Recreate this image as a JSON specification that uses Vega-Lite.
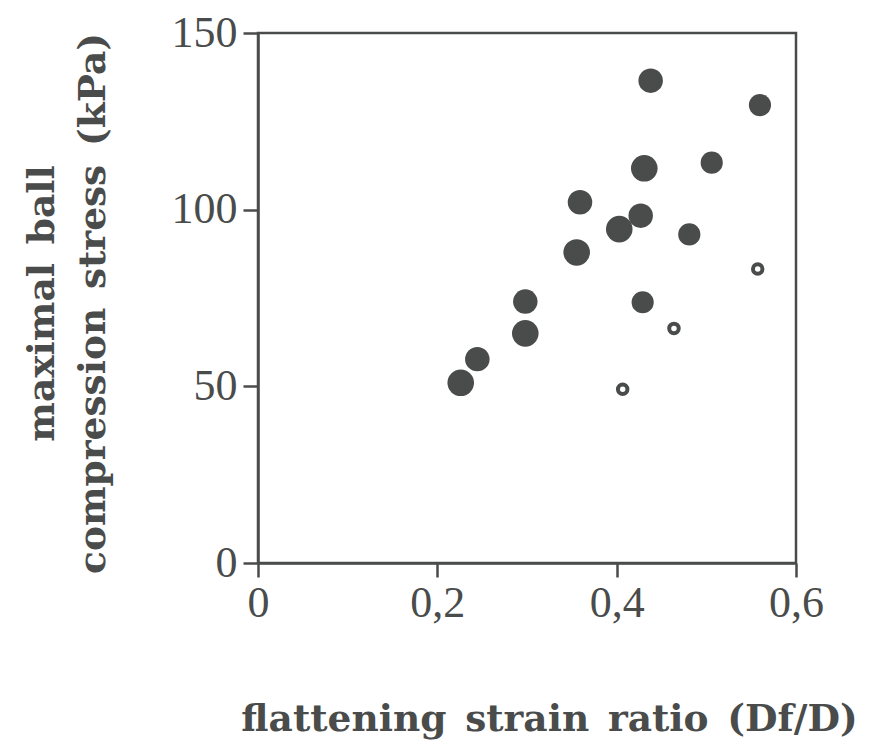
{
  "$schema": "https://vega.github.io/schema/vega-lite/v6.json",
  "width": 538,
  "height": 530,
  "autosize": {"type": "none"},
  "padding": {"left": 258, "top": 33, "right": 78, "bottom": 192},
  "background": "white",
  "config": {
    "view": {"stroke": "#4a4c4b", "strokeWidth": 2.5},
    "font": "Liberation Serif"
  },
  "data": {
    "values": [
      {"strain": 0.2261, "stress": 51.0, "group": "large"},
      {"strain": 0.2446, "stress": 57.7, "group": "medium"},
      {"strain": 0.2981, "stress": 74.0, "group": "medium"},
      {"strain": 0.2981, "stress": 65.0, "group": "large"},
      {"strain": 0.3591, "stress": 102.1, "group": "medium"},
      {"strain": 0.3554, "stress": 87.9, "group": "large"},
      {"strain": 0.4029, "stress": 94.5, "group": "large"},
      {"strain": 0.4268, "stress": 98.3, "group": "medium"},
      {"strain": 0.4308, "stress": 111.7, "group": "large"},
      {"strain": 0.4379, "stress": 136.5, "group": "medium"},
      {"strain": 0.5598, "stress": 129.6, "group": "small"},
      {"strain": 0.5060, "stress": 113.3, "group": "small"},
      {"strain": 0.4810, "stress": 93.0, "group": "small"},
      {"strain": 0.4290, "stress": 73.8, "group": "small"},
      {"strain": 0.5573, "stress": 83.2, "group": "open"},
      {"strain": 0.4639, "stress": 66.4, "group": "open"},
      {"strain": 0.4067, "stress": 49.2, "group": "open"}
    ]
  },
  "encoding": {
    "x": {
      "field": "strain",
      "type": "quantitative",
      "scale": {"domain": [0, 0.6], "nice": false, "zero": false},
      "axis": {
        "values": [0, 0.2, 0.4, 0.6],
        "labelExpr": "datum.value == 0 ? '0' : replace(format(datum.value, '.1f'), '.', ',')",
        "grid": false,
        "domainColor": "#4a4c4b",
        "domainWidth": 2.5,
        "tickColor": "#4a4c4b",
        "tickWidth": 2.5,
        "tickSize": 14,
        "labelFont": "Liberation Serif",
        "labelFontSize": 44,
        "labelColor": "#4a4c4b",
        "labelPadding": 4,
        "labelFlush": false,
        "title": "flattening\u2002strain\u2002ratio\u2002(Df/D)",
        "titleFont": "DejaVu Serif",
        "titleFontWeight": "bold",
        "titleFontSize": 37.5,
        "titleColor": "#4a4c4b",
        "titleX": 291,
        "titleY": 167,
        "titleBaseline": "alphabetic",
        "titleAlign": "center"
      }
    },
    "y": {
      "field": "stress",
      "type": "quantitative",
      "scale": {"domain": [0, 150], "nice": false},
      "axis": {
        "values": [0, 50, 100, 150],
        "grid": false,
        "domainColor": "#4a4c4b",
        "domainWidth": 2.5,
        "tickColor": "#4a4c4b",
        "tickWidth": 2.5,
        "tickSize": 15,
        "labelFont": "Liberation Serif",
        "labelFontSize": 44,
        "labelColor": "#4a4c4b",
        "labelPadding": 6,
        "labelFlush": false,
        "title": ["maximal\u2002ball", "compression\u2002stress\u2002(kPa)"],
        "titleFont": "DejaVu Serif",
        "titleFontWeight": "bold",
        "titleFontSize": 37.5,
        "titleColor": "#4a4c4b",
        "titleLineHeight": 51,
        "titleAngle": -90,
        "titleX": -235,
        "titleY": 270,
        "titleBaseline": "top",
        "titleAlign": "center"
      }
    }
  },
  "layer": [
    {
      "transform": [{"filter": "datum.group != 'open'"}],
      "mark": {"type": "point", "shape": "circle", "filled": true, "color": "#4a4c4b", "opacity": 1},
      "encoding": {
        "size": {
          "field": "group",
          "type": "nominal",
          "scale": {"domain": ["large", "medium", "small"], "range": [707, 491, 330]},
          "legend": null
        }
      }
    },
    {
      "transform": [{"filter": "datum.group == 'open'"}],
      "mark": {"type": "point", "shape": "circle", "filled": false, "fill": "white", "fillOpacity": 1, "stroke": "#4a4c4b", "strokeWidth": 4, "opacity": 1, "size": 90},
      "encoding": {}
    }
  ]
}
